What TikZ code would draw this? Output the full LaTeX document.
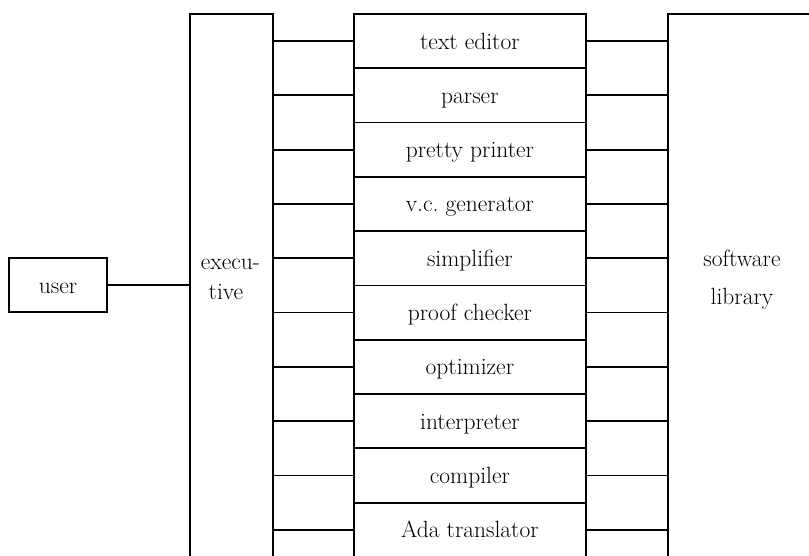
\documentclass[tikz,border=0pt]{standalone}
\begin{document}
\begin{tikzpicture}[x=1pt,y=-1pt,
  every node/.style={font=\fontsize{23.5}{28}\selectfont},
  box/.style={draw,line width=1.8pt,rectangle,inner sep=0pt},
  tool/.style={box,minimum width=232pt,minimum height=54.3pt,text height=16pt,text depth=0pt},
  lbl/.style={inner sep=0pt,anchor=base},
  conn/.style={line width=1.8pt}]
\useasboundingbox (0,0) rectangle (809,555);
\clip (0,0) rectangle (809,555);
% user
\node[box,minimum width=98pt,minimum height=54pt,text height=16pt,text depth=0pt] (user) at (58,285) {user};
% executive (open past the bottom)
\node[box,minimum width=83pt,minimum height=580pt,anchor=north west] (exec) at (189,13) {};
\node[lbl] (execa) at (230.5,269) {execu-};
\node[lbl] (execb) at (226,299) {tive};
% software library
\node[box,minimum width=170pt,minimum height=580pt,anchor=north west] (lib) at (667,13) {};
\node[lbl] (liba) at (742,266) {software};
\node[lbl] (libb) at (742,304) {library};
% tools
\foreach \i/\t in {1/text editor,2/parser,3/pretty printer,4/v.c.\ generator,5/simplifier,6/proof checker,7/optimizer,8/interpreter,9/compiler,10/Ada translator}{
  \node[tool,anchor=north west] (r\i) at (353,{13+54.3*(\i-1)}) {\t};
  \draw[conn] (exec.east |- r\i.west) -- (r\i.west);
  \draw[conn] (r\i.east) -- (lib.west |- r\i.east);
}
\draw[conn] (user.east) -- (exec.west |- user.east);
\end{tikzpicture}
\end{document}
